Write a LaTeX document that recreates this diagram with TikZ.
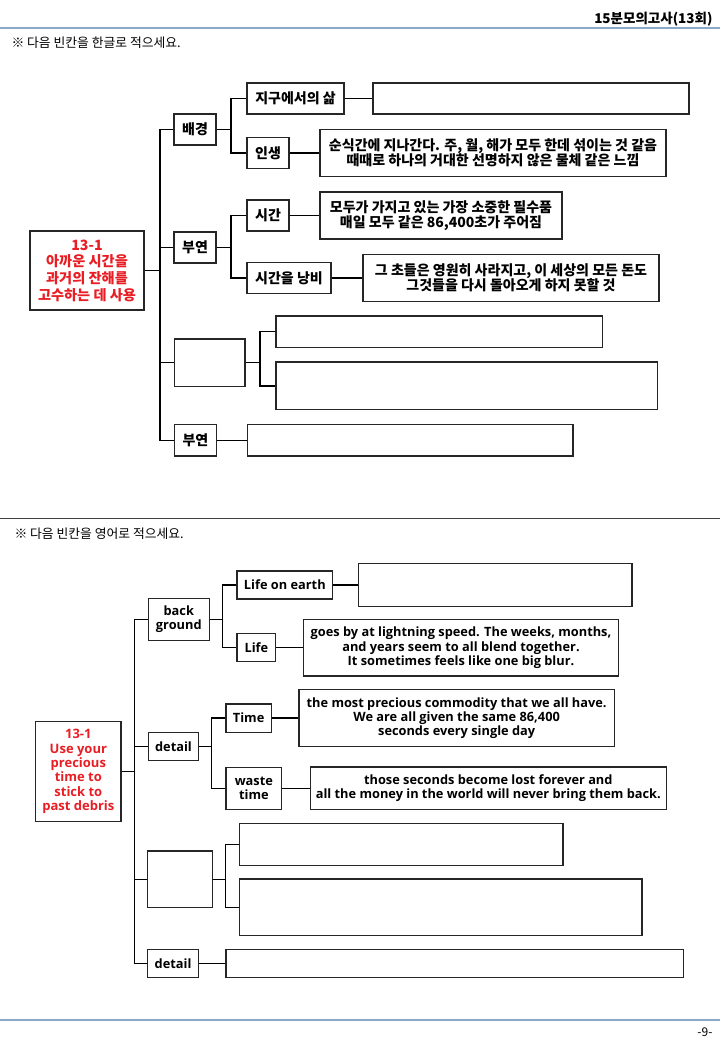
\documentclass[tikz,border=0pt]{standalone}
\usepackage{fontspec}
\setmainfont{Noto Sans CJK KR}
\newfontfamily\enfont{Open Sans}
\definecolor{keyred}{RGB}{232,30,36}
\definecolor{rulebl}{RGB}{140,170,200}
\begin{document}
\begin{tikzpicture}[x=1pt,y=-1pt,
  box/.style 2 args={draw=black!85, line width=1.2pt, minimum width=#1pt, minimum height=#2pt, inner sep=0pt, align=center},
  ko/.style={font=\fontsize{14}{15.2}\selectfont\bfseries},
  en/.style={font=\enfont\fontsize{12.8}{14.3}\selectfont\bfseries},
  keyko/.style={text=keyred, font=\fontsize{14.2}{16.7}\selectfont\bfseries},
  keyen/.style={text=keyred, font=\enfont\fontsize{13}{14.3}\selectfont\bfseries},
  link/.style={line width=1.4pt, black}]
\useasboundingbox (0,0) rectangle (720,1040);
\node[anchor=east, font=\fontsize{13.5}{16}\selectfont\bfseries] (title) at (716,19) {15분모의고사(13회)};
\draw[rulebl, line width=1.2pt] (0,28) -- (720,28);
\node[anchor=west, font=\fontsize{12.8}{14}\selectfont] (ask1) at (8,43) {※ 다음 빈칸을 한글로 적으세요.};
\node[box={114}{79}, keyko] (root) at (87,270.5) {13-1\\아까운 시간을\\과거의 잔해를\\고수하는 데 사용};
\node[box={42}{31}, ko] (bg) at (195,129.5) {배경};
\node[box={97}{31}, ko] (earth) at (295.5,98.5) {지구에서의 삶};
\node[box={316}{31}] (earthA) at (531,98.5) {};
\node[box={42}{31}, ko] (life) at (268,153) {인생};
\node[box={346}{47}, ko] (lifeA) at (493,153) {순식간에 지나간다. 주, 월, 해가 모두 한데 섞이는 것 같음\\때때로 하나의 거대한 선명하지 않은 물체 같은 느낌};
\node[box={42}{31}, ko] (dt) at (195,247.5) {부연};
\node[box={42}{31}, ko] (time) at (268,215.5) {시간};
\node[box={242}{47}, ko] (timeA) at (441,215.5) {모두가 가지고 있는 가장 소중한 필수품\\매일 모두 같은 86,400초가 주어짐};
\node[box={84}{31}, ko] (waste) at (289,278) {시간을 낭비};
\node[box={296}{47}, ko] (wasteA) at (511,278) {그 초들은 영원히 사라지고, 이 세상의 모든 돈도\\그것들을 다시 돌아오게 하지 못할 것};
\node[box={70.5}{47.5}] (mid) at (209.75,362.75) {};
\node[box={326.5}{31.5}] (midA) at (439.25,331.75) {};
\node[box={381.5}{47.7}] (midB) at (466.75,385.85) {};
\node[box={42}{31.3}, ko] (dtB) at (195.4,440.35) {부연};
\node[box={325.5}{31.3}] (dtBA) at (410.25,440.35) {};
\coordinate (trunk) at (160,270.5);
\coordinate (jbg) at (231,129.5);
\coordinate (jdt) at (231,247.5);
\coordinate (jmid) at (260,362.75);
\draw[link] (root) -- (trunk);
\draw[link] (trunk) |- (bg.west);
\draw[link] (trunk) |- (dt.west);
\draw[link] (trunk) |- (mid.west);
\draw[link] (trunk) |- (dtB.west);
\draw[link] (bg) -- (jbg);
\draw[link] (jbg) |- (earth.west);
\draw[link] (jbg) |- (life.west);
\draw[link] (earth) -- (earthA);
\draw[link] (life) -- (lifeA);
\draw[link] (dt) -- (jdt);
\draw[link] (jdt) |- (time.west);
\draw[link] (jdt) |- (waste.west);
\draw[link] (time) -- (timeA);
\draw[link] (waste) -- (wasteA);
\draw[link] (mid) -- (jmid);
\draw[link] (jmid) |- (midA.west);
\draw[link] (jmid) |- (midB.west);
\draw[link] (dtB) -- (dtBA);
\draw[black!75, line width=1.2pt] (0,518.5) -- (720,518.5);
\node[anchor=west, font=\fontsize{12.8}{14}\selectfont] (ask2) at (11,534) {※ 다음 빈칸을 영어로 적으세요.};
\node[box={85.3}{99.6}, keyen] (rootE) at (78.35,771.5) {13-1\\Use your\\precious\\time to\\stick to\\past debris};
\node[box={61}{42.4}, en] (bgE) at (178.8,619.5) {back\\ground};
\node[box={95.7}{28}, en] (earthE) at (284.85,585) {Life on earth};
\node[box={273.3}{42.4}] (earthEA) at (495.35,585) {};
\node[box={38.7}{28}, en] (lifeE) at (256.35,647.7) {Life};
\node[box={315.4}{56.7}, en] (lifeEA) at (461,647.7) {goes by at lightning speed. The weeks, months,\\and years seem to all blend together.\\It sometimes feels like one big blur.};
\node[box={50.4}{28.4}, en] (dtE) at (173.5,746.5) {detail};
\node[box={45.3}{28.3}, en] (timeE) at (248.65,718.15) {Time};
\node[box={315.3}{57.4}, en] (timeEA) at (456.65,718.15) {the most precious commodity that we all have.\\We are all given the same 86,400\\seconds every single day};
\node[box={55.7}{42}, en] (wasteE) at (253.85,788.3) {waste\\time};
\node[box={355.8}{42.7}, en] (wasteEA) at (488.3,788.3) {those seconds become lost forever and\\all the money in the world will never bring them back.};
\node[box={64.3}{56.7}] (midE) at (179.95,879.35) {};
\node[box={323.3}{42.4}] (midEA) at (401.35,844.5) {};
\node[box={402.2}{56.7}] (midEB) at (440.8,907.35) {};
\node[box={50.5}{28}, en] (dtEB) at (173.05,963.3) {detail};
\node[box={457.3}{28}] (dtEBA) at (454.55,963.3) {};
\coordinate (trunkE) at (134.3,771.5);
\coordinate (jbgE) at (222.7,619.5);
\coordinate (jdtE) at (211.7,746.5);
\coordinate (jmidE) at (225.4,879.35);
\draw[link] (rootE) -- (trunkE);
\draw[link] (trunkE) |- (bgE.west);
\draw[link] (trunkE) |- (dtE.west);
\draw[link] (trunkE) |- (midE.west);
\draw[link] (trunkE) |- (dtEB.west);
\draw[link] (bgE) -- (jbgE);
\draw[link] (jbgE) |- (earthE.west);
\draw[link] (jbgE) |- (lifeE.west);
\draw[link] (earthE) -- (earthEA);
\draw[link] (lifeE) -- (lifeEA);
\draw[link] (dtE) -- (jdtE);
\draw[link] (jdtE) |- (timeE.west);
\draw[link] (jdtE) |- (wasteE.west);
\draw[link] (timeE) -- (timeEA);
\draw[link] (wasteE) -- (wasteEA);
\draw[link] (midE) -- (jmidE);
\draw[link] (jmidE) |- (midEA.west);
\draw[link] (jmidE) |- (midEB.west);
\draw[link] (dtEB) -- (dtEBA);
\draw[rulebl, line width=1.2pt] (0,1020) -- (720,1020);
\node[anchor=east, font=\fontsize{12}{14}\selectfont] (page) at (716,1032) {-9-};
\end{tikzpicture}
\end{document}
